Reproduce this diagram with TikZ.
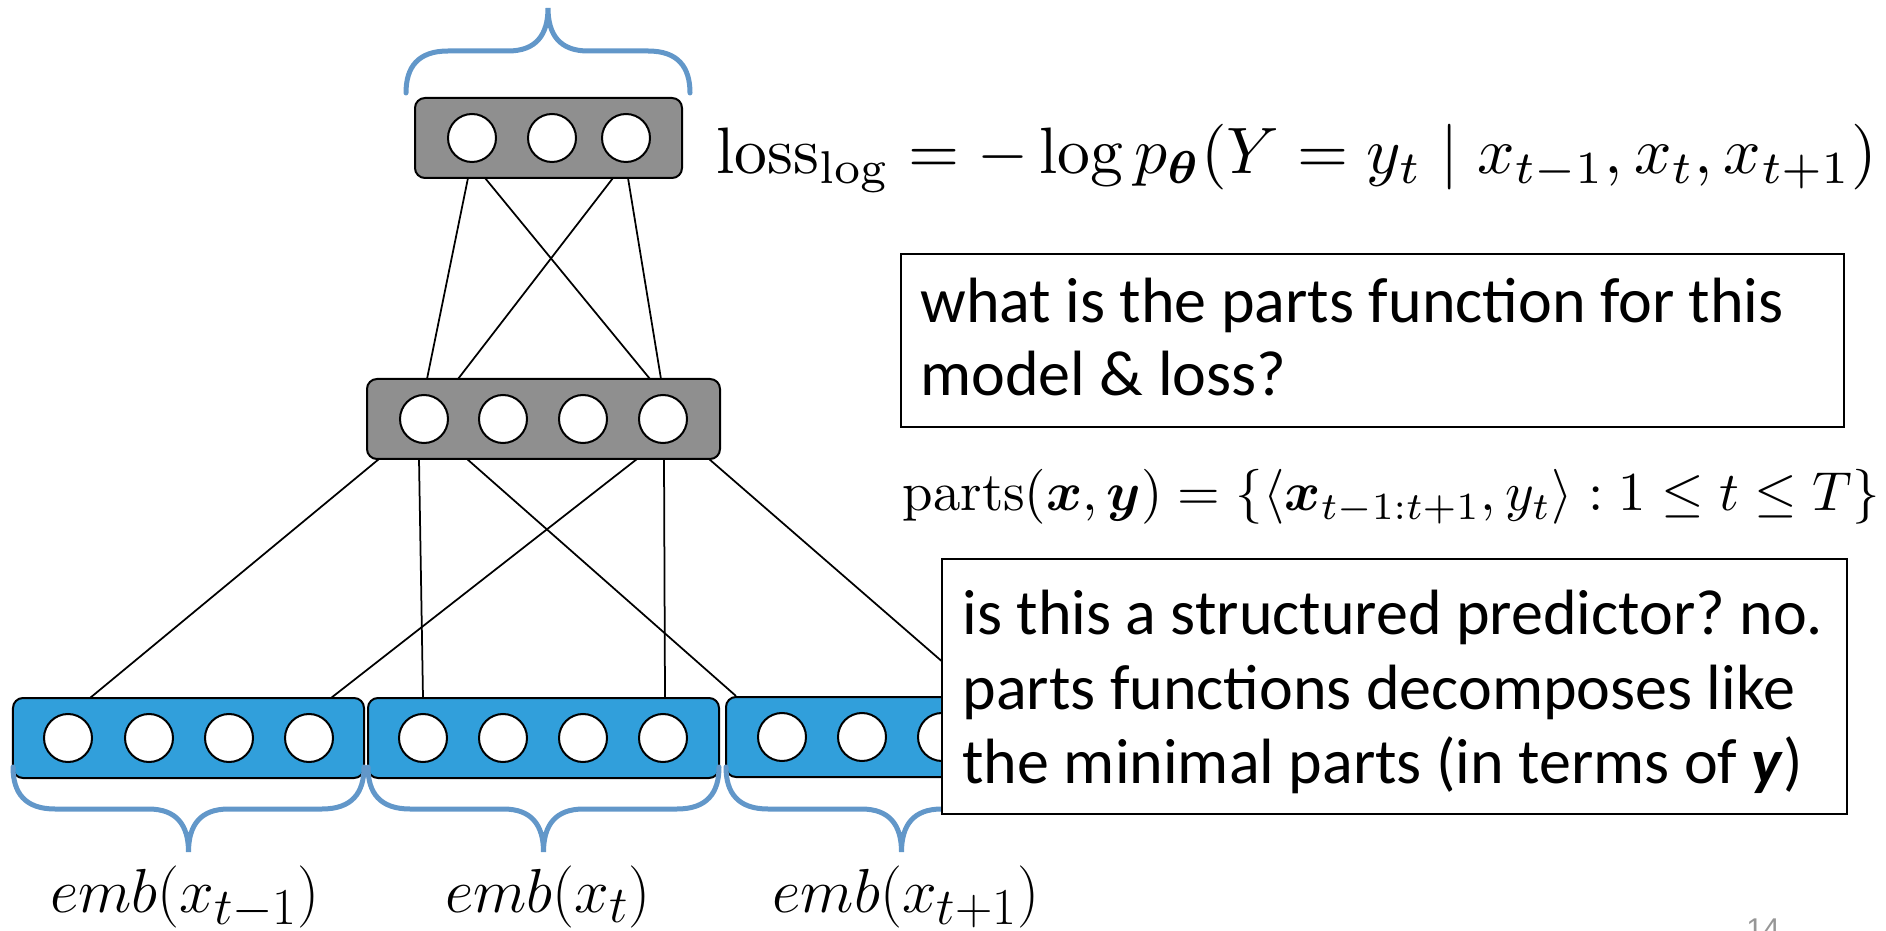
\documentclass[tikz,border=0pt]{standalone}
\usepackage{amsmath,amssymb}
\usepackage{graphicx}
\usepackage{fontspec}
\newfontfamily\calib{Carlito}
\newfontfamily\pagefont{Liberation Sans}
\definecolor{boxgray}{RGB}{143,143,143}
\definecolor{embblue}{RGB}{49,159,219}
\definecolor{bracecol}{RGB}{98,151,201}
\definecolor{pagegray}{RGB}{150,150,150}
\frenchspacing
\tikzset{
  layerbox/.style={draw=black, line width=0.8pt, rounded corners=4pt, minimum height=32pt, inner sep=0pt},
  graybox/.style={layerbox, fill=boxgray},
  bluebox/.style={layerbox, fill=embblue},
  unit/.style={circle, draw=black, line width=0.8pt, fill=white, minimum size=19.2pt, inner sep=0pt},
  conn/.style={draw=black, line width=0.7pt},
  bracestyle/.style={draw=bracecol, line width=2pt, line cap=round},
  textbox/.style={draw=black, line width=0.7pt, fill=white, inner sep=0pt},
  boxtext/.style={anchor=base west, inner sep=0pt, font=\calib\fontsize{25.6}{30}\selectfont},
  emblabel/.style={anchor=base, inner sep=0pt, font=\fontsize{27.2}{31}\selectfont},
}
\newcommand\drawbrace[4]{% left x, right x, end y, direction (+1 down, -1 up)
  \pgfmathsetmacro\bmid{(#1+#2)/2}
  \draw[bracestyle] (#1,#3) .. controls (#1,#3+#4*26) and (#1+12,#3+#4*42) .. (#1+42,#3+#4*42)
    -- (\bmid-40,#3+#4*42) .. controls (\bmid-12,#3+#4*42) and (\bmid,#3+#4*58) .. (\bmid,#3+#4*85)
    .. controls (\bmid,#3+#4*58) and (\bmid+12,#3+#4*42) .. (\bmid+40,#3+#4*42)
    -- (#2-42,#3+#4*42) .. controls (#2-12,#3+#4*42) and (#2,#3+#4*26) .. (#2,#3);
}
\begin{document}
\begin{tikzpicture}[x=0.4pt, y=-0.4pt]
\useasboundingbox (0,0) rectangle (1886,931);

% connector end points
\coordinate (ta) at (468,178); \coordinate (tb) at (485,178);
\coordinate (tc) at (613,178); \coordinate (td) at (628,178);
\coordinate (ma) at (427,379); \coordinate (mb) at (458,379);
\coordinate (mc) at (650,379); \coordinate (md) at (661,379);
\coordinate (m1) at (379,459); \coordinate (m2) at (419,459);
\coordinate (m3) at (467,459); \coordinate (m4) at (637,459);
\coordinate (m5) at (664,459); \coordinate (m6) at (709,459);
\coordinate (b1) at (90,698);  \coordinate (b2) at (423,698);
\coordinate (b3) at (736,696); \coordinate (b4) at (331,698);
\coordinate (b5) at (665,698); \coordinate (b6) at (983,697);

\draw[conn] (ta) -- (ma);
\draw[conn] (tb) -- (mc);
\draw[conn] (tc) -- (mb);
\draw[conn] (td) -- (md);
\draw[conn] (m1) -- (b1);
\draw[conn] (m2) -- (b2);
\draw[conn] (m3) -- (b3);
\draw[conn] (m4) -- (b4);
\draw[conn] (m5) -- (b5);
\draw[conn] (m6) -- (b6);

% top layer
\node[graybox, minimum width=106.8pt] (top) at (548.5,138) {};
\node[unit] (t1) at (472,138) {};
\node[unit] (t2) at (552,138) {};
\node[unit] (t3) at (626,138) {};

% middle layer
\node[graybox, minimum width=141.2pt] (mid) at (543.5,419) {};
\node[unit] (h1) at (424,419) {};
\node[unit] (h2) at (503,419) {};
\node[unit] (h3) at (583,419) {};
\node[unit] (h4) at (663,419) {};

% embeddings
\node[bluebox, minimum width=140.4pt] (e1) at (188.5,738) {};
\node[unit] (e1a) at (68,738) {};
\node[unit] (e1b) at (149,738) {};
\node[unit] (e1c) at (229,738) {};
\node[unit] (e1d) at (309,738) {};
\node[bluebox, minimum width=140.4pt] (e2) at (543.5,738) {};
\node[unit] (e2a) at (423,738) {};
\node[unit] (e2b) at (503,738) {};
\node[unit] (e2c) at (583,738) {};
\node[unit] (e2d) at (663,738) {};
\node[bluebox, minimum width=140.4pt] (e3) at (901.5,737) {};
\node[unit] (e3a) at (782,737) {};
\node[unit] (e3b) at (862,737) {};
\node[unit] (e3c) at (942,737) {};

% braces
\drawbrace{406}{690}{93}{-1}
\drawbrace{13}{364}{767}{1}
\drawbrace{368}{719}{767}{1}
\drawbrace{726}{1077}{767}{1}

% labels
\node[emblabel] (l1) at (185,912) {$emb(x_{t-1})$};
\node[emblabel] (l2) at (548,912) {$emb(x_t)$};
\node[emblabel] (l3) at (906,912) {$emb(x_{t+1})$};

% loss formula
\node[anchor=base west, inner sep=0pt] (loss) at (716,174)
  {\resizebox{464pt}{!}{$\mathrm{loss}_{\log} = -\log p_{\boldsymbol{\theta}}(Y = y_t \mid x_{t-1}, x_t, x_{t+1})$}};

% question box
\node[textbox, minimum width=377.2pt, minimum height=69.2pt] (q1) at (1372.5,340.5) {};
\node[boxtext] (q1a) at (920,323) {what is the parts function for this};
\node[boxtext] (q1b) at (920,396) {model \& loss?};

% parts formula
\node[anchor=base west, inner sep=0pt] (parts) at (902,511)
  {\resizebox{390.8pt}{!}{$\mathrm{parts}(\boldsymbol{x},\boldsymbol{y}) = \{\langle \boldsymbol{x}_{t-1:t+1}, y_t\rangle : 1 \leq t \leq T\}$}};

% answer box
\node[textbox, minimum width=362pt, minimum height=102pt] (q2) at (1394.5,686.5) {};
\node[boxtext] (q2a) at (962,635) {is this a structured predictor? no.};
\node[boxtext] (q2b) at (962,709) {parts functions decomposes like};
\node[boxtext] (q2c) at (962,783) {the minimal parts (in terms of \textbf{\textit{y}})};

% page number
\node[anchor=north, inner sep=0pt, text=pagegray, font=\pagefont\fontsize{12}{14}\selectfont] (pg) at (1763,918) {14};
\end{tikzpicture}
\end{document}
